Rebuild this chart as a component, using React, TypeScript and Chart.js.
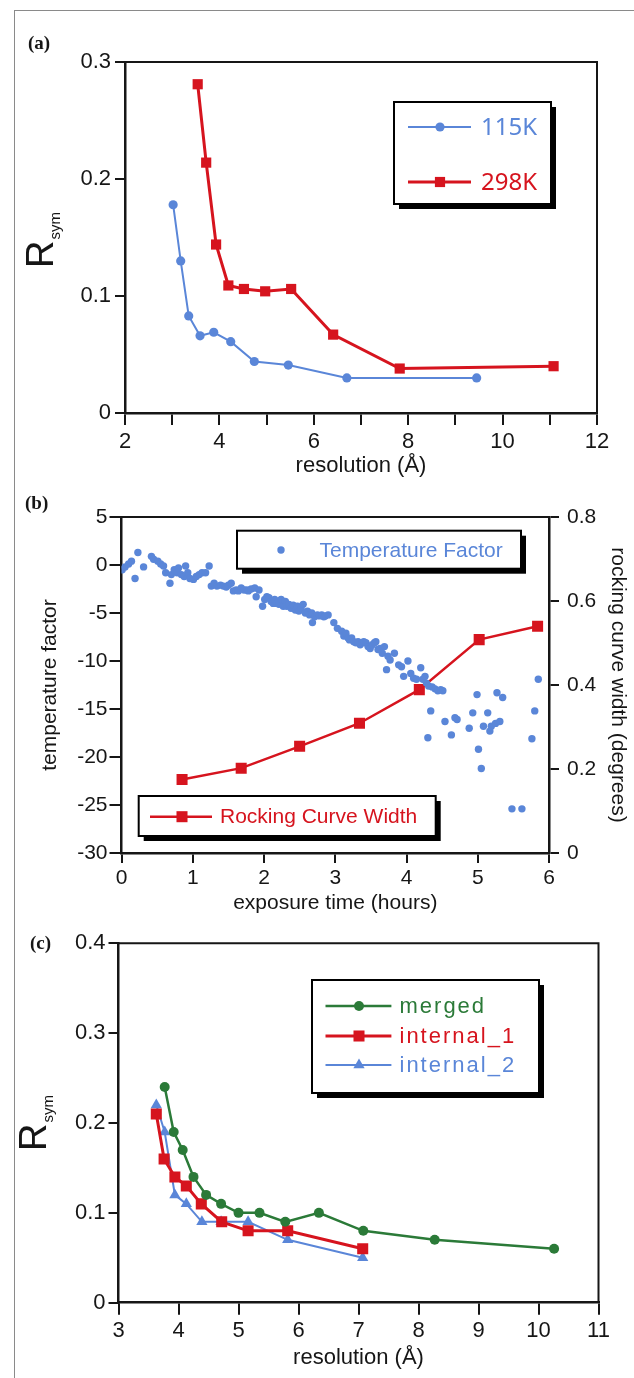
import React, { useEffect, useRef } from 'react';
import { Chart, registerables } from 'chart.js';

Chart.register(...registerables);

// ---------- Panel (a) ----------
const resolution115K = [3.02, 3.18, 3.35, 3.59, 3.88, 4.24, 4.74, 5.46, 6.70, 9.45];
const rsym115K = [0.178, 0.130, 0.083, 0.066, 0.069, 0.061, 0.044, 0.041, 0.030, 0.030];
const resolution298K = [3.54, 3.72, 3.93, 4.19, 4.52, 4.97, 5.52, 6.41, 7.82, 11.08];
const rsym298K = [0.281, 0.214, 0.144, 0.109, 0.106, 0.104, 0.106, 0.067, 0.038, 0.040];
const xLabelsA = [2, 4, 6, 8, 10, 12];

// ---------- Panel (b) ----------
const tfHours = [
  0.01, 0.05, 0.10, 0.14, 0.19, 0.23, 0.31, 0.42, 0.45, 0.51,
  0.55, 0.59, 0.62, 0.68, 0.70, 0.74, 0.78, 0.80, 0.84, 0.88,
  0.90, 0.93, 0.96, 1.01, 1.05, 1.09, 1.13, 1.18, 1.23, 1.26,
  1.30, 1.34, 1.39, 1.43, 1.47, 1.50, 1.54, 1.57, 1.61, 1.64,
  1.68, 1.72, 1.76, 1.78, 1.82, 1.87, 1.89, 1.93, 1.98, 2.01,
  2.04, 2.07, 2.10, 2.13, 2.15, 2.18, 2.21, 2.24, 2.27, 2.30,
  2.32, 2.35, 2.38, 2.41, 2.44, 2.47, 2.49, 2.52, 2.55, 2.58,
  2.61, 2.64, 2.67, 2.68, 2.71, 2.75, 2.78, 2.81, 2.84, 2.86,
  2.90, 2.98, 3.03, 3.09, 3.12, 3.15, 3.18, 3.20, 3.23, 3.26,
  3.29, 3.32, 3.35, 3.38, 3.40, 3.43, 3.46, 3.49, 3.52, 3.55,
  3.57, 3.60, 3.63, 3.66, 3.69, 3.72, 3.74, 3.77, 3.83, 3.89,
  3.93, 3.96, 4.02, 4.06, 4.10, 4.14, 4.20, 4.23, 4.26, 4.28,
  4.31, 4.36, 4.40, 4.44, 4.48, 4.51, 4.30, 4.34, 4.54, 4.63,
  4.68, 4.71, 4.88, 4.93, 4.99, 5.01, 5.05, 5.08, 5.14, 5.17,
  5.19, 5.25, 5.27, 5.31, 5.35, 5.48, 5.62, 5.76, 5.80, 5.85,
];
const tfValues = [
  -0.5, -0.2, 0.1, 0.4, -1.4, 1.3, -0.2, 0.9, 0.6, 0.4,
  0.1, -0.1, -0.8, -1.9, -1.0, -0.5, -0.8, -0.3, -1.0, -1.2,
  -0.1, -0.8, -1.4, -1.5, -1.2, -1.0, -0.8, -0.8, -0.1, -2.2,
  -1.9, -2.2, -2.1, -2.2, -2.3, -2.1, -1.9, -2.7, -2.6, -2.7,
  -2.4, -2.6, -2.6, -2.7, -2.5, -2.4, -3.3, -2.6, -4.3, -3.6,
  -3.3, -3.4, -3.8, -4.0, -3.6, -4.0, -4.1, -3.6, -4.3, -3.8,
  -4.3, -4.1, -4.5, -4.2, -4.7, -4.3, -4.8, -4.5, -4.1, -5.0,
  -4.8, -5.2, -5.0, -6.0, -5.4, -5.2, -5.3, -5.2, -5.4, -5.3,
  -5.2, -6.0, -6.6, -6.9, -7.4, -7.1, -7.6, -7.8, -7.6, -8.0,
  -8.1, -8.0, -8.3, -8.1, -8.0, -8.1, -8.5, -8.7, -8.3, -8.1,
  -8.0, -8.8, -8.7, -9.2, -8.5, -10.9, -9.5, -9.9, -9.2, -10.4,
  -10.6, -11.6, -10.0, -11.3, -11.8, -11.9, -10.7, -11.9, -11.6, -12.3,
  -12.6, -12.7, -12.9, -13.1, -13.0, -13.1, -18.0, -15.2, -16.3, -17.7,
  -15.9, -16.1, -17.0, -15.4, -13.5, -19.2, -21.2, -16.8, -15.4, -17.3,
  -16.8, -16.5, -13.3, -16.3, -13.8, -25.4, -25.4, -18.1, -15.2, -11.9,
];
const rockingHours = [0.85, 1.68, 2.50, 3.34, 4.18, 5.02, 5.84];
const rockingWidth = [0.175, 0.202, 0.254, 0.309, 0.389, 0.508, 0.540];

// ---------- Panel (c) ----------
const resolutionMerged = [3.77, 3.92, 4.07, 4.25, 4.46, 4.71, 5.00, 5.35, 5.78, 6.34, 7.08, 8.27, 10.26];
const rsymMerged = [0.24, 0.19, 0.17, 0.14, 0.12, 0.11, 0.10, 0.10, 0.09, 0.10, 0.08, 0.07, 0.06];
const resolutionInternal1 = [3.63, 3.76, 3.94, 4.13, 4.38, 4.72, 5.16, 5.82, 7.07];
const rsymInternal1 = [0.21, 0.16, 0.14, 0.13, 0.11, 0.09, 0.08, 0.08, 0.06];
const resolutionInternal2 = [3.63, 3.77, 3.94, 4.13, 4.39, 4.71, 5.16, 5.82, 7.07];
const rsymInternal2 = [0.22, 0.19, 0.12, 0.11, 0.09, 0.09, 0.09, 0.07, 0.05];

// ---------- styling ----------
const BLUE = '#5a86d8';
const RED = '#d6141e';
const GREEN = '#2b7a38';
const INK = '#161616';
const SANS = '"Liberation Sans", Arial, Helvetica, sans-serif';

const pts = (xs: number[], ys: number[]) => xs.map((x, i) => ({ x, y: ys[i] }));

function drawMarker(ctx: CanvasRenderingContext2D, style: string, x: number, y: number, r: number) {
  ctx.beginPath();
  if (style === 'rect') {
    const s = r * Math.SQRT1_2;
    ctx.rect(x - s, y - s, 2 * s, 2 * s);
  } else if (style === 'triangle') {
    let rad = 0;
    ctx.moveTo(x + Math.sin(rad) * r, y - Math.cos(rad) * r);
    rad += (2 * Math.PI) / 3;
    ctx.lineTo(x + Math.sin(rad) * r, y - Math.cos(rad) * r);
    rad += (2 * Math.PI) / 3;
    ctx.lineTo(x + Math.sin(rad) * r, y - Math.cos(rad) * r);
    ctx.closePath();
  } else {
    ctx.arc(x, y, r, 0, Math.PI * 2);
  }
  ctx.fill();
}

type LegendBox = {
  x: number; y: number; w: number; h: number; font: string; spacing?: string;
  items: { ds: number; y: number; lineX1?: number; lineX2?: number; markerX: number; textX: number }[];
};

function legendPlugin(boxes: LegendBox[]) {
  return {
    id: 'boxLegend',
    afterDatasetsDraw(chart: any) {
      const ctx: CanvasRenderingContext2D = chart.ctx;
      ctx.save();
      for (const b of boxes) {
        ctx.fillStyle = '#000';
        ctx.fillRect(b.x + 5, b.y + 5, b.w, b.h);
        ctx.fillStyle = '#fff';
        ctx.fillRect(b.x, b.y, b.w, b.h);
        ctx.strokeStyle = '#000';
        ctx.lineWidth = 2;
        ctx.strokeRect(b.x, b.y, b.w, b.h);
        for (const it of b.items) {
          const ds = chart.data.datasets[it.ds];
          const color = ds.borderColor || ds.backgroundColor;
          if (it.lineX1 !== undefined && it.lineX2 !== undefined) {
            ctx.strokeStyle = color;
            ctx.lineWidth = ds.borderWidth || 2;
            ctx.beginPath();
            ctx.moveTo(it.lineX1, it.y);
            ctx.lineTo(it.lineX2, it.y);
            ctx.stroke();
          }
          ctx.fillStyle = ds.pointBackgroundColor || color;
          drawMarker(ctx, ds.pointStyle || 'circle', it.markerX, it.y, ds.pointRadius);
          ctx.fillStyle = color;
          ctx.font = b.font;
          (ctx as any).letterSpacing = b.spacing || '0px';
          ctx.textAlign = 'left';
          ctx.textBaseline = 'middle';
          ctx.fillText(ds.label, it.textX, it.y + 1);
          (ctx as any).letterSpacing = '0px';
        }
      }
      ctx.restore();
    },
  };
}

const frameBox = {
  id: 'frameBox',
  afterDatasetsDraw(chart: any, _args: any, opts: any) {
    const { left, right, top, bottom } = chart.chartArea;
    const ctx: CanvasRenderingContext2D = chart.ctx;
    ctx.save();
    ctx.strokeStyle = INK;
    ctx.lineWidth = 2;
    ctx.beginPath();
    ctx.moveTo(left, top);
    ctx.lineTo(right, top);
    if (opts && opts.right) ctx.lineTo(right, bottom);
    ctx.stroke();
    ctx.restore();
  },
};

function rsymPlugin(x: number, y: number) {
  return {
    id: 'rsymTitle',
    afterDraw(chart: any) {
      const ctx: CanvasRenderingContext2D = chart.ctx;
      ctx.save();
      ctx.translate(x, y);
      ctx.rotate(-Math.PI / 2);
      ctx.fillStyle = INK;
      ctx.textAlign = 'left';
      ctx.textBaseline = 'alphabetic';
      ctx.font = `38px ${SANS}`;
      ctx.fillText('R', 0, 0);
      const w = ctx.measureText('R').width;
      ctx.font = `15px ${SANS}`;
      ctx.fillText('sym', w + 1, 7);
      ctx.restore();
    },
  };
}

const fixW = (w: number) => (s: any) => { s.width = w; };
const fixH = (h: number) => (s: any) => { s.height = h; };

function axisBase(size: number, tickLength: number, pad: number) {
  return {
    border: { display: true, color: INK, width: 2.5 },
    grid: { display: true, drawOnChartArea: false, drawTicks: true, tickLength, color: INK, lineWidth: 2 },
    ticks: { color: INK, font: { family: SANS, size }, padding: pad, autoSkip: false, maxRotation: 0 },
  };
}

function configA(): any {
  const xb = axisBase(22, 12, 4);
  const yb = axisBase(22, 10, 4);
  return {
    type: 'scatter',
    data: {
      datasets: [
        {
          label: '115K', data: pts(resolution115K, rsym115K), showLine: true,
          borderColor: BLUE, backgroundColor: BLUE, pointBackgroundColor: BLUE, borderWidth: 2,
          pointStyle: 'circle', pointRadius: 4.6, pointBorderWidth: 0,
        },
        {
          label: '298K', data: pts(resolution298K, rsym298K), showLine: true,
          borderColor: RED, backgroundColor: RED, pointBackgroundColor: RED, borderWidth: 3,
          pointStyle: 'rect', pointRadius: 7.2, pointBorderWidth: 0,
        },
      ],
    },
    options: {
      animation: false, responsive: false, devicePixelRatio: 1, events: [],
      layout: { padding: { top: 62, right: 37, left: 0, bottom: 0 } },
      plugins: { legend: { display: false }, tooltip: { enabled: false }, frameBox: { right: true } },
      scales: {
        x: {
          type: 'linear', min: 2, max: 12, ...xb, afterFit: fixH(77),
          ticks: { ...xb.ticks, stepSize: 1, callback: (v: number) => (xLabelsA.includes(v) ? String(v) : '') },
          title: { display: true, text: 'resolution (Å)', color: INK, font: { family: SANS, size: 22 }, padding: { top: 0, bottom: 11 } },
        },
        y: {
          type: 'linear', min: 0, max: 0.3, ...yb, afterFit: fixW(125),
          ticks: { ...yb.ticks, stepSize: 0.1 },
        },
      },
    },
    plugins: [
      frameBox,
      rsymPlugin(52.6, 268),
      legendPlugin([
        {
          x: 394, y: 102, w: 157, h: 102, font: `24px "Noto Sans", ${SANS}`,
          items: [
            { ds: 0, y: 127, lineX1: 408, lineX2: 471, markerX: 440, textX: 481 },
            { ds: 1, y: 182, lineX1: 408, lineX2: 471, markerX: 440, textX: 481 },
          ],
        },
      ]),
    ],
  };
}

function configB(): any {
  const xb = axisBase(21, 10, 3);
  const yb = axisBase(21, 12, 2);
  const y1b = axisBase(21, 10, 8);
  return {
    type: 'scatter',
    data: {
      datasets: [
        {
          label: 'Temperature Factor', data: pts(tfHours, tfValues), showLine: false, yAxisID: 'y',
          borderColor: BLUE, backgroundColor: BLUE, pointBackgroundColor: BLUE,
          pointStyle: 'circle', pointRadius: 3.7, pointBorderWidth: 0,
        },
        {
          label: 'Rocking Curve Width', data: pts(rockingHours, rockingWidth), showLine: true, yAxisID: 'y1',
          borderColor: RED, backgroundColor: RED, pointBackgroundColor: RED, borderWidth: 2.5,
          pointStyle: 'rect', pointRadius: 7.8, pointBorderWidth: 0,
        },
      ],
    },
    options: {
      animation: false, responsive: false, devicePixelRatio: 1, events: [],
      layout: { padding: { top: 27, right: 0, left: 0, bottom: 0 } },
      plugins: { legend: { display: false }, tooltip: { enabled: false }, frameBox: { right: false } },
      scales: {
        x: {
          type: 'linear', min: 0, max: 6, ...xb, afterFit: fixH(72),
          ticks: { ...xb.ticks, stepSize: 1 },
          title: { display: true, text: 'exposure time (hours)', color: INK, font: { family: SANS, size: 21 }, padding: { top: 0, bottom: 9.5 } },
        },
        y: {
          type: 'linear', position: 'left', min: -30, max: 5, ...yb, afterFit: fixW(121.5),
          ticks: { ...yb.ticks, stepSize: 5 },
          title: { display: true, text: 'temperature factor', color: INK, font: { family: SANS, size: 21 }, padding: { top: 38, bottom: 0 } },
        },
        y1: {
          type: 'linear', position: 'right', min: 0, max: 0.8, ...y1b, afterFit: fixW(85),
          border: { display: true, color: INK, width: 2.5 },
          ticks: { ...y1b.ticks, stepSize: 0.2 },
          title: { display: true, text: 'rocking curve width (degrees)', color: INK, font: { family: SANS, size: 21 }, padding: { top: 4, bottom: 0 } },
        },
      },
    },
    plugins: [
      frameBox,
      legendPlugin([
        {
          x: 237, y: 40.7, w: 284, h: 38, font: `21px ${SANS}`,
          items: [{ ds: 0, y: 60, markerX: 281, textX: 319.5 }],
        },
        {
          x: 138.7, y: 306, w: 297, h: 40, font: `21px ${SANS}`,
          items: [{ ds: 1, y: 326.7, lineX1: 150, lineX2: 212, markerX: 182, textX: 220 }],
        },
      ]),
    ],
  };
}

function configC(): any {
  const xb = axisBase(22, 12, 3);
  const yb = axisBase(22, 10, 3);
  return {
    type: 'scatter',
    data: {
      datasets: [
        {
          label: 'merged', data: pts(resolutionMerged, rsymMerged), showLine: true,
          borderColor: GREEN, backgroundColor: GREEN, pointBackgroundColor: GREEN, borderWidth: 2.5,
          pointStyle: 'circle', pointRadius: 5, pointBorderWidth: 0,
        },
        {
          label: 'internal_1', data: pts(resolutionInternal1, rsymInternal1), showLine: true,
          borderColor: RED, backgroundColor: RED, pointBackgroundColor: RED, borderWidth: 3,
          pointStyle: 'rect', pointRadius: 7.8, pointBorderWidth: 0,
        },
        {
          label: 'internal_2', data: pts(resolutionInternal2, rsymInternal2), showLine: true,
          borderColor: BLUE, backgroundColor: BLUE, pointBackgroundColor: BLUE, borderWidth: 2,
          pointStyle: 'triangle', pointRadius: 6.5, pointBorderWidth: 0,
        },
      ],
    },
    options: {
      animation: false, responsive: false, devicePixelRatio: 1, events: [],
      layout: { padding: { top: 18.3, right: 35.5, left: 0, bottom: 0 } },
      plugins: { legend: { display: false }, tooltip: { enabled: false }, frameBox: { right: true } },
      scales: {
        x: {
          type: 'linear', min: 3, max: 11, ...xb, afterFit: fixH(75.3),
          ticks: { ...xb.ticks, stepSize: 1 },
          title: { display: true, text: 'resolution (Å)', color: INK, font: { family: SANS, size: 22 }, padding: { top: 0, bottom: 7 } },
        },
        y: {
          type: 'linear', min: 0, max: 0.4, ...yb, afterFit: fixW(118.5),
          ticks: { ...yb.ticks, stepSize: 0.1 },
        },
      },
    },
    plugins: [
      frameBox,
      rsymPlugin(46, 226),
      legendPlugin([
        {
          x: 312, y: 55, w: 227, h: 113, font: `22px ${SANS}`, spacing: '2px',
          items: [
            { ds: 0, y: 81, lineX1: 325.5, lineX2: 391.4, markerX: 359, textX: 399.5 },
            { ds: 1, y: 111, lineX1: 325.5, lineX2: 391.4, markerX: 359, textX: 399.5 },
            { ds: 2, y: 140, lineX1: 325.5, lineX2: 391.4, markerX: 359, textX: 399.5 },
          ],
        },
      ]),
    ],
  };
}

function ChartPanel({ top, height, make }: { top: number; height: number; make: () => any }) {
  const ref = useRef<HTMLCanvasElement>(null);
  useEffect(() => {
    const chart = new Chart(ref.current as HTMLCanvasElement, make());
    return () => chart.destroy();
  }, []);
  return (
    <canvas
      ref={ref}
      width={634}
      height={height}
      style={{ position: 'absolute', left: 0, top, width: 634, height, display: 'block' }}
    />
  );
}

const labelStyle = (left: number, top: number): React.CSSProperties => ({
  position: 'absolute', left, top, font: 'bold 19px "Liberation Serif", "Times New Roman", serif',
  lineHeight: '19px', color: INK, margin: 0,
});

export default function App() {
  useEffect(() => {
    document.body.style.margin = '0';
  }, []);
  return (
    <div style={{ position: 'relative', width: 634, height: 1378, overflow: 'hidden', background: '#fff' }}>
      <div style={{ position: 'absolute', left: 14, top: 10, width: 700, height: 1400, borderLeft: '1.5px solid #8a8a8a', borderTop: '1.5px solid #8a8a8a' }} />
      <ChartPanel top={0} height={490} make={configA} />
      <ChartPanel top={490} height={435} make={configB} />
      <ChartPanel top={925} height={453} make={configC} />
      <div style={labelStyle(28, 33)}>(a)</div>
      <div style={labelStyle(25, 493)}>(b)</div>
      <div style={labelStyle(30, 933)}>(c)</div>
    </div>
  );
}
